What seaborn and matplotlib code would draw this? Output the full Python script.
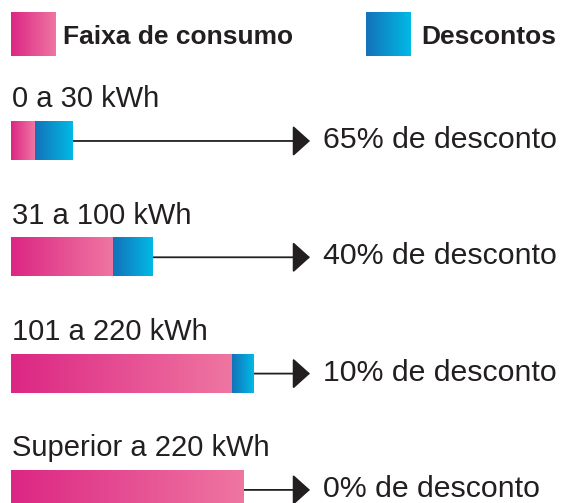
import numpy as np
import pandas as pd
import matplotlib
matplotlib.use("Agg")
import matplotlib.pyplot as plt
from matplotlib.colors import LinearSegmentedColormap
import seaborn as sns

# dados
faixas = ["0 a 30 kWh", "31 a 100 kWh", "101 a 220 kWh", "Superior a 220 kWh"]
consumo = [24, 102, 221, 233]       # comprimento da barra rosa
desconto = [38, 40, 22, 0]          # comprimento da barra azul
rotulos = ["65% de desconto", "40% de desconto", "10% de desconto", "0% de desconto"]
legenda = ["Faixa de consumo", "Descontos"]

df = pd.DataFrame({"faixa": faixas, "consumo": consumo, "desconto": desconto})
df["total"] = df["consumo"] + df["desconto"]

sns.set_style("white")
plt.rcParams["font.family"] = ["Liberation Sans", "DejaVu Sans"]

rosa = LinearSegmentedColormap.from_list("rosa", ["#dc2684", "#ef76a1"])
azul = LinearSegmentedColormap.from_list("azul", ["#1472b9", "#00bae5"])
grad = np.linspace(0, 1, 256).reshape(1, -1)
cor_texto = "#231f20"

fig = plt.figure(figsize=(5.64, 5.03), dpi=100)
ax = fig.add_axes([0, 0, 1, 1])

sns.barplot(data=df, x="total", y="faixa", orient="h", width=0.327,
            color="#00bae5", errorbar=None, ax=ax)
sns.barplot(data=df, x="consumo", y="faixa", orient="h", width=0.327,
            color="#dc2684", errorbar=None, ax=ax)

n = len(df)
barras_total = ax.patches[:n]
barras_rosa = ax.patches[n:2 * n]

# troca as barras lisas por gradientes
for pt, pr in zip(barras_total, barras_rosa):
    y0 = pr.get_y()
    h = pr.get_height()
    x_fim_rosa = pr.get_x() + pr.get_width()
    x_fim = pt.get_x() + pt.get_width()
    ax.imshow(grad, cmap=rosa, extent=(pr.get_x(), x_fim_rosa, y0 + h, y0),
              aspect="auto", zorder=3)
    if x_fim > x_fim_rosa:
        ax.imshow(grad, cmap=azul, extent=(x_fim_rosa, x_fim, y0 + h, y0),
                  aspect="auto", zorder=3)
    pt.set_visible(False)
    pr.set_visible(False)

for i, row in df.iterrows():
    ax.annotate("", xy=(299, i), xytext=(row["total"], i),
                arrowprops=dict(arrowstyle="-|>,head_length=1.08,head_width=0.97",
                                mutation_scale=10, lw=1.3, color=cor_texto,
                                shrinkA=0, shrinkB=0), zorder=2)
    ax.text(312, i + 0.06, rotulos[i], fontsize=21.8, color=cor_texto,
            va="baseline", ha="left")
    ax.text(1, i - 0.29, row["faixa"], fontsize=21, color=cor_texto,
            va="baseline", ha="left")

ax.set_xlim(-11, 553)
ax.set_ylim(3.1126, -1.2121)
ax.axis("off")

# legenda no topo (coordenadas em pixels)
leg = fig.add_axes([0, 0, 1, 1])
leg.imshow(grad, cmap=rosa, extent=(11, 56, 56, 12), aspect="auto")
leg.imshow(grad, cmap=azul, extent=(366, 411, 56, 12), aspect="auto")
leg.set_xlim(0, 564)
leg.set_ylim(503, 0)
leg.axis("off")
leg.text(63, 44, legenda[0], fontsize=19, fontweight="bold", color=cor_texto,
         va="baseline", ha="left")
leg.text(421, 44, legenda[1], fontsize=19, fontweight="bold", color=cor_texto,
         va="baseline", ha="left")

fig.savefig("out.png", dpi=100)
